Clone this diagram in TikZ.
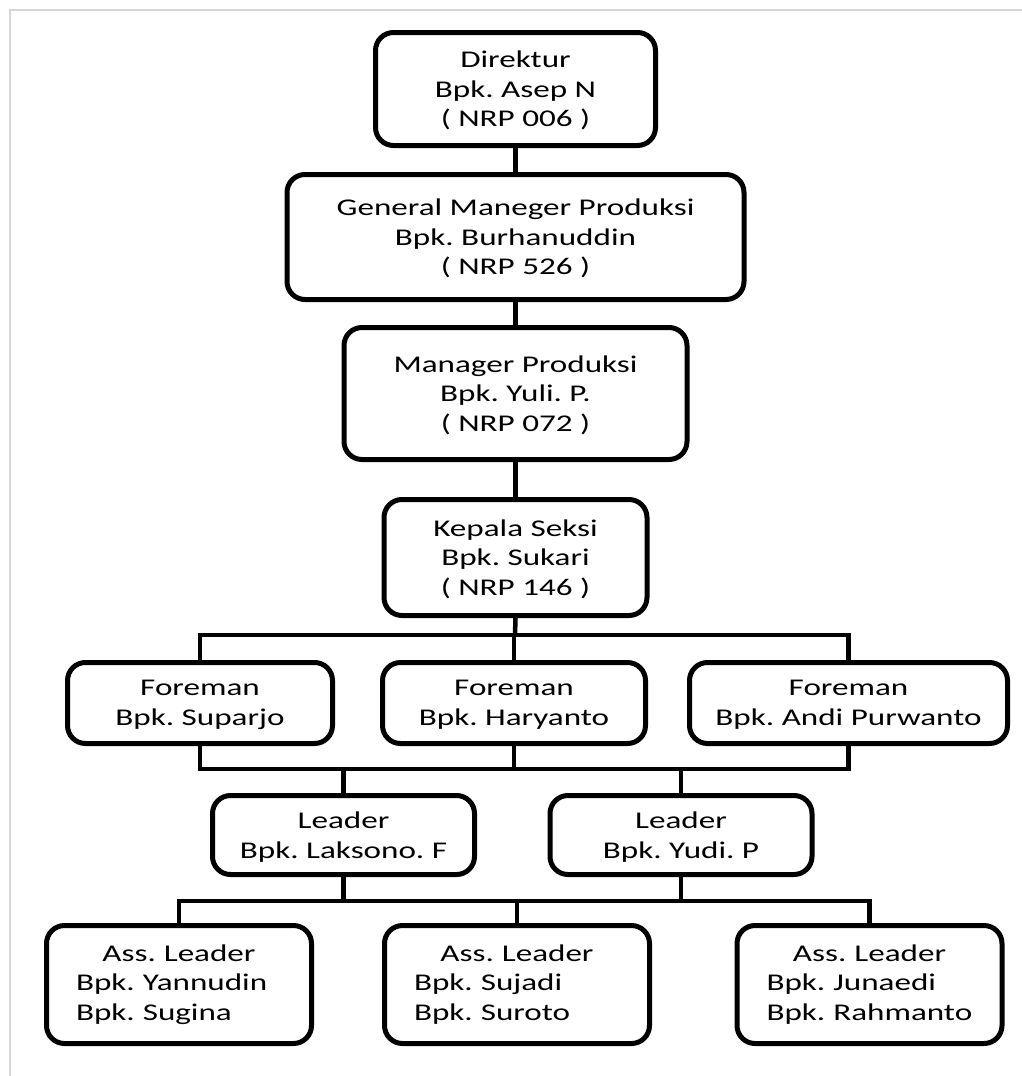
\documentclass[tikz,border=0pt]{standalone}
\usepackage{fontspec}
\setmainfont{Carlito}[FakeStretch=1.38]
\usetikzlibrary{positioning}
\definecolor{orgframe}{HTML}{D6D6D6}
\frenchspacing
\tikzset{
  font=\fontsize{24}{29.5}\selectfont,
  box/.style={draw=black,line width=5pt,rounded corners=18pt,fill=white,
              inner sep=0pt,text depth=0pt,align=center},
  fore/.style={box,minimum height=81pt},
  lead/.style={box,minimum width=262pt,minimum height=79pt},
  asst/.style={draw=black,line width=5pt,rounded corners=18pt,fill=white,
               inner ysep=0pt,inner xsep=29.5pt,text width=206pt,
               minimum height=118pt,align=left},
  link/.style={draw=black,line width=4.5pt},
  frame/.style={draw=orgframe,line width=2pt},
}

\begin{document}
\begin{tikzpicture}[x=1pt,y=-1pt]
  \useasboundingbox (0,0) rectangle (1022,1076);
  % edge of the page
  \draw[frame] (10,1076) -- (10,10) -- (1022,10);

  % top of the chain
  \node[box,minimum width=280pt,minimum height=113pt] (dir) at (515.5,89)
    {Direktur\\Bpk. Asep N\\( NRP 006 )};
  \node[box,minimum width=457pt,minimum height=125pt,below=24pt of dir] (gm)
    {General Maneger Produksi\\Bpk. Burhanuddin\\( NRP 526 )};
  \node[box,minimum width=343pt,minimum height=132pt,below=23pt of gm] (mgr)
    {Manager Produksi\\Bpk. Yuli. P.\\( NRP 072 )};
  \node[box,minimum width=263pt,minimum height=116pt,below=35pt of mgr] (kasi)
    {Kepala Seksi\\Bpk. Sukari\\( NRP 146 )};

  % foremen
  \node[fore,minimum width=265pt] (fm1) at (200,703) {Foreman\\Bpk. Suparjo};
  \node[fore,minimum width=263pt] (fm2) at (514,703) {Foreman\\Bpk. Haryanto};
  \node[fore,minimum width=318pt] (fm3) at (848.5,703) {Foreman\\Bpk. Andi Purwanto};

  % leaders
  \node[lead] (ld1) at (343.5,835) {Leader\\Bpk. Laksono. F};
  \node[lead] (ld2) at (681,835) {Leader\\Bpk. Yudi. P};

  % assistant leaders
  \node[asst] (as1) at (179,984.5)
    {\makebox[\linewidth]{Ass. Leader}\\\mbox{Bpk. Yannudin}\\\mbox{Bpk. Sugina}};
  \node[asst] (as2) at (517,984.5)
    {\makebox[\linewidth]{Ass. Leader}\\\mbox{Bpk. Sujadi}\\\mbox{Bpk. Suroto}};
  \node[asst] (as3) at (869.5,984.5)
    {\makebox[\linewidth]{Ass. Leader}\\\mbox{Bpk. Junaedi}\\\mbox{Bpk. Rahmanto}};

  \coordinate (b1) at (515,635);
  \coordinate (b2) at (515,769);
  \coordinate (b3) at (517,901);

  \draw[link] (dir) -- (gm);
  \draw[link] (gm) -- (mgr);
  \draw[link] (mgr) -- (kasi);
  \draw[link] (kasi.south) -- (b1);
  \draw[link] (fm1.north) |- (b1) -| (fm3.north);
  \draw[link] (fm2.north) -- (fm2.north |- b1);
  \draw[link] (fm1.south) |- (b2) -| (fm3.south);
  \draw[link] (fm2.south) -- (fm2.south |- b2);
  \draw[link] (ld1.north) -- (ld1.north |- b2);
  \draw[link] (ld2.north) -- (ld2.north |- b2);
  \draw[link] (as1.north) |- (b3) -| (as3.north);
  \draw[link] (as2.north) -- (b3);
  \draw[link] (ld1.south) -- (ld1.south |- b3);
  \draw[link] (ld2.south) -- (ld2.south |- b3);
\end{tikzpicture}
\end{document}
